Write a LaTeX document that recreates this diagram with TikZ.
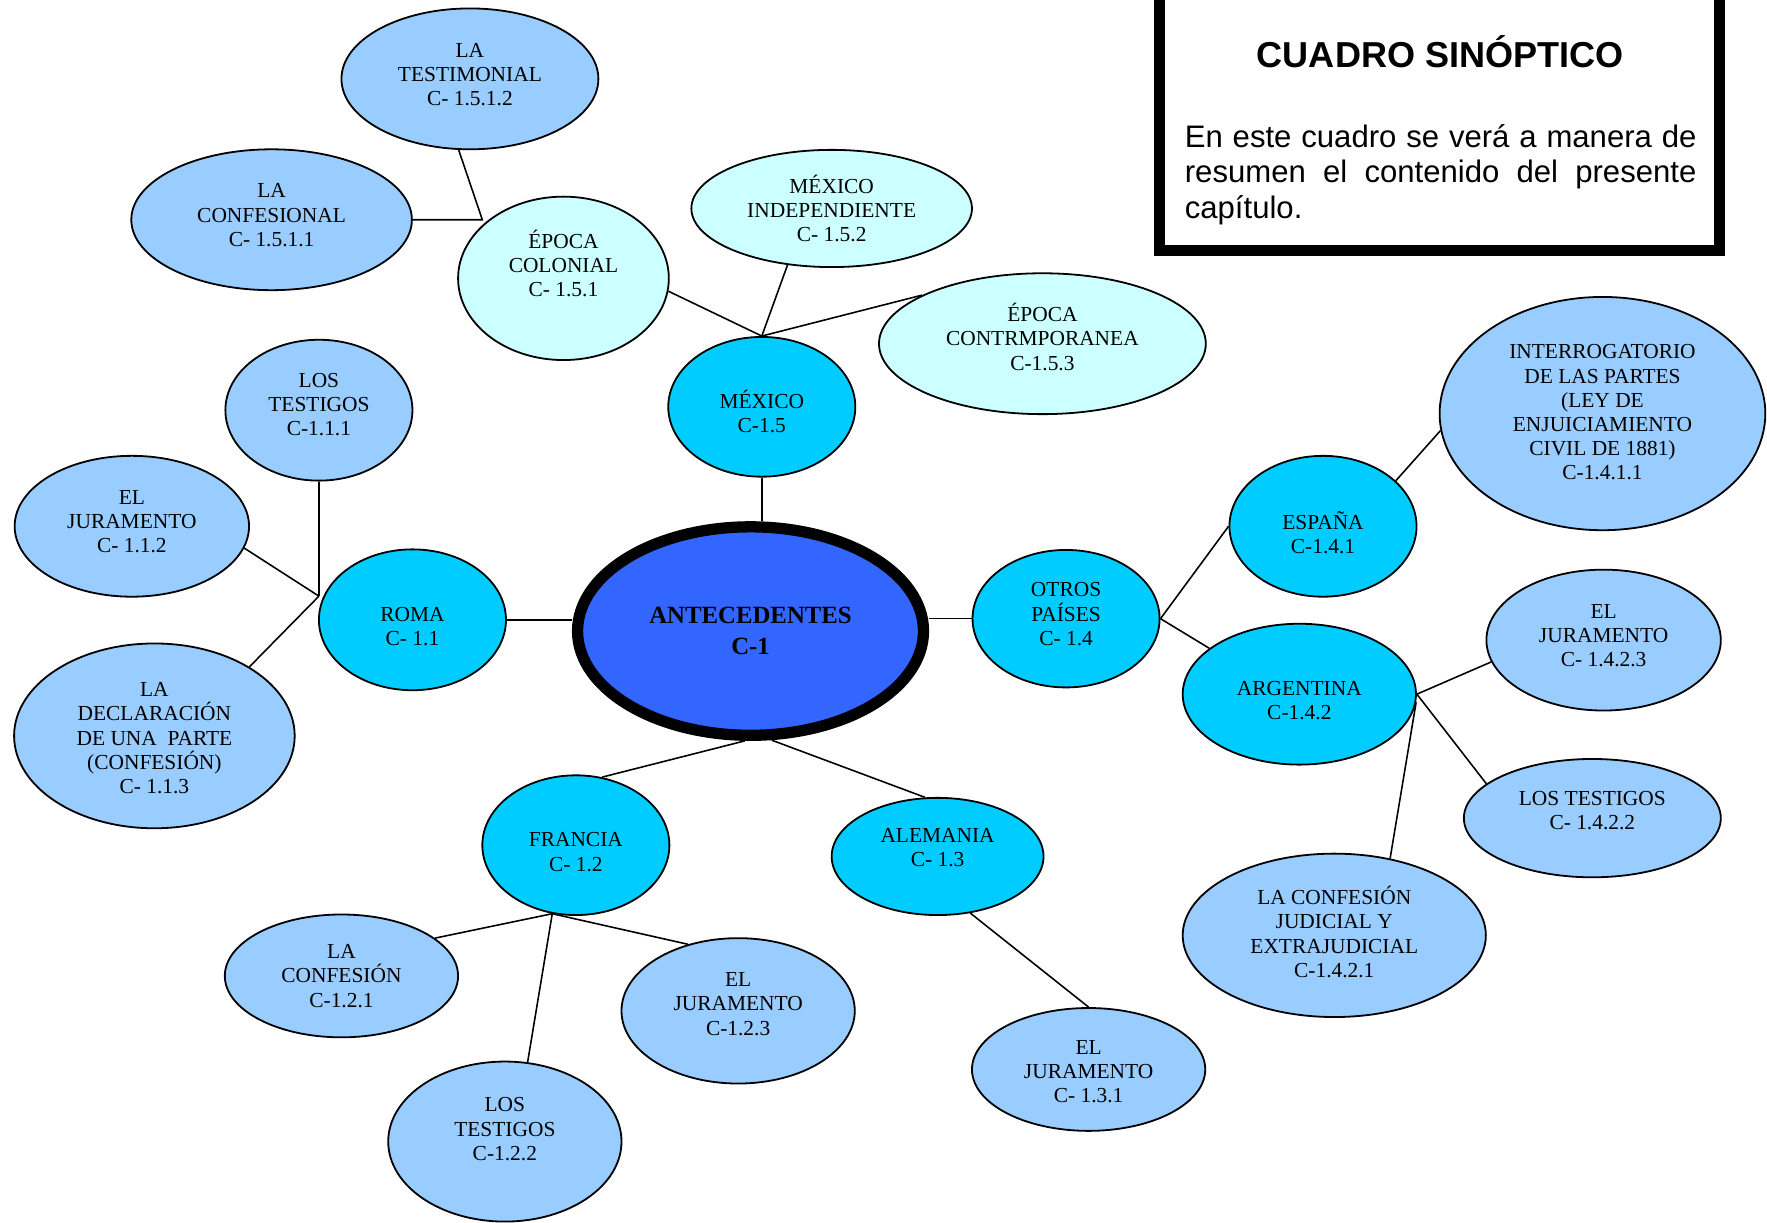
\documentclass[tikz,border=0pt]{standalone}
\usepackage{fontspec}
\setmainfont{Liberation Serif}
\setsansfont{Liberation Sans}
\usetikzlibrary{shapes.geometric}
\definecolor{hojaazul}{HTML}{99CCFF}
\definecolor{celeste}{HTML}{CCFFFF}
\definecolor{cyanpais}{HTML}{00CCFF}
\definecolor{azulcentro}{HTML}{3366FF}

\tikzset{
    burbuja/.style={ellipse, draw, line width=0.8pt, inner sep=0pt},
    tam/.style 2 args={minimum width=#1*0.5pt, minimum height=#2*0.5pt},
    texto/.style 2 args={label={[font=\fontsize{9.5}{10.75}\selectfont, align=center,
        inner sep=0pt, yshift={(0-(#1))*0.5pt}]center:{#2}}},
    hoja/.style={burbuja, fill=hojaazul},
    epoca/.style={burbuja, fill=celeste},
    pais/.style={burbuja, fill=cyanpais},
    enlace/.style={line width=0.7pt},
}

\begin{document}
\begin{tikzpicture}[x=0.5pt, y=-0.5pt]
    \useasboundingbox (0,0) rectangle (1568,1085);

    % cuadro sinoptico
    \draw[line width=5pt] (1029,-20) rectangle (1526,222.5);
    \node[font=\sffamily\bfseries\fontsize{16}{19}\selectfont, inner sep=0pt] (titulo) at (1278,46) {CUADRO SINÓPTICO};
    \node[anchor=north west, text width=227pt, align=justify, inner sep=0pt,
        font=\sffamily\fontsize{13.8}{15.8}\selectfont] (resumen) at (1051,110)
        {En este cuadro se verá a manera de resumen el contenido del presente capítulo.};

    % centro
    \node[ellipse, draw, line width=5pt, fill=azulcentro, tam={307}{185}, align=center, inner sep=0pt,
        font=\bfseries\fontsize{11}{13.5}\selectfont] (antec) at (666,560) {ANTECEDENTES\\C-1};

    % mexico
    \node[pais, tam={166}{124}, texto={4}{MÉXICO\\C-1.5}] (mexico) at (676,361) {};
    \node[epoca, tam={187}{145}, texto={-13}{ÉPOCA\\COLONIAL\\C- 1.5.1}] (colonial) at (500,247) {};
    \node[epoca, tam={249}{104}, texto={0}{MÉXICO\\INDEPENDIENTE\\C- 1.5.2}] (indep) at (738,185) {};
    \node[epoca, tam={290}{125}, texto={-6}{ÉPOCA\\CONTRMPORANEA\\C-1.5.3}] (contemp) at (925,305) {};
    \node[hoja, tam={228}{125}, texto={-4}{LA\\TESTIMONIAL\\C- 1.5.1.2}] (testimonial) at (417,70) {};
    \node[hoja, tam={249}{125}, texto={-4}{LA\\CONFESIONAL\\C- 1.5.1.1}] (confesional) at (241,195) {};

    % roma
    \node[pais, tam={166}{125}, texto={6}{ROMA\\C- 1.1}] (roma) at (366,550) {};
    \node[hoja, tam={166}{125}, texto={-5}{LOS\\TESTIGOS\\C-1.1.1}] (testigosroma) at (283,364) {};
    \node[hoja, tam={208}{125}, texto={-4}{EL\\JURAMENTO\\C- 1.1.2}] (juramentoroma) at (117,467) {};
    \node[hoja, tam={249}{164}, texto={2}{LA\\DECLARACIÓN\\DE UNA~~PARTE\\(CONFESIÓN)\\C- 1.1.3}] (declaracion) at (137,653) {};

    % francia y alemania
    \node[pais, tam={166}{124}, texto={6}{FRANCIA\\C- 1.2}] (francia) at (511,750) {};
    \node[hoja, tam={207}{109}, texto={0}{LA\\CONFESIÓN\\C-1.2.1}] (confesionfr) at (303,866) {};
    \node[hoja, tam={207}{142}, texto={-11}{LOS\\TESTIGOS\\C-1.2.2}] (testigosfr) at (448,1013) {};
    \node[hoja, tam={207}{129}, texto={-6}{EL\\JURAMENTO\\C-1.2.3}] (juramentofr) at (655,897) {};
    \node[pais, tam={188}{104}, texto={-8}{ALEMANIA\\C- 1.3}] (alemania) at (832,760) {};
    \node[hoja, tam={207}{109}, texto={2}{EL\\JURAMENTO\\C- 1.3.1}] (juramentoal) at (966,949) {};

    % otros paises
    \node[pais, tam={166}{122}, texto={-4}{OTROS\\PAÍSES\\C- 1.4}] (otros) at (946,549) {};
    \node[pais, tam={166}{125}, texto={6}{ESPAÑA\\C-1.4.1}] (espana) at (1174,467) {};
    \node[hoja, tam={289}{207}, texto={-1}{INTERROGATORIO\\DE LAS PARTES\\(LEY DE\\ENJUICIAMIENTO\\CIVIL DE 1881)\\C-1.4.1.1}] (interrog) at (1422,367) {};
    \node[pais, tam={207}{125}, texto={6}{ARGENTINA\\C-1.4.2}] (argentina) at (1153,616) {};
    \node[hoja, tam={208}{125}, texto={-4}{EL\\JURAMENTO\\C- 1.4.2.3}] (juramentoar) at (1423,568) {};
    \node[hoja, tam={228}{105}, texto={-7}{LOS TESTIGOS\\C- 1.4.2.2}] (testigosar) at (1413,726) {};
    \node[hoja, tam={269}{145}, texto={-3}{LA CONFESIÓN\\JUDICIAL Y\\EXTRAJUDICIAL\\C-1.4.2.1}] (confesionar) at (1184,830) {};

    % enlaces
    \coordinate (jcol) at (428,195);
    \coordinate (jroma) at (283,529);
    \coordinate (jfran) at (francia.-109);

    \draw[enlace] (testimonial.-99) -- (jcol) -- (confesional.east);
    \draw[enlace] (colonial.-7) -- (mexico.north);
    \draw[enlace] (indep.-128) -- (mexico.north);
    \draw[enlace] (contemp.158) -- (mexico.north);
    \draw[enlace] (mexico.south) -- (mexico.south |- antec.north);
    \draw[enlace] (testigosroma.south) -- (jroma);
    \draw[enlace] (juramentoroma.-11) -- (jroma);
    \draw[enlace] (declaracion.36) -- (jroma);
    \draw[enlace] (roma.east) -- (roma.east -| antec.west);
    \draw[enlace] (otros.west -| antec.east) -- (otros.west);
    \draw[enlace] (otros.east) -- (espana.west);
    \draw[enlace] (otros.east) -- (argentina.153);
    \draw[enlace] (espana.32) -- (interrog.186);
    \draw[enlace] (argentina.east) -- (juramentoar.191);
    \draw[enlace] (argentina.east) -- (testigosar.162);
    \draw[enlace] (argentina.-4) -- (confesionar.54);
    \draw[enlace] (antec.-93) -- (francia.69);
    \draw[enlace] (antec.-79) -- (alemania.102);
    \draw[enlace] (jfran) -- (confesionfr.22);
    \draw[enlace] (jfran) -- (testigosfr.74);
    \draw[enlace] (jfran) -- (juramentofr.127);
    \draw[enlace] (alemania.-60) -- (juramentoal.north);
\end{tikzpicture}
\end{document}
